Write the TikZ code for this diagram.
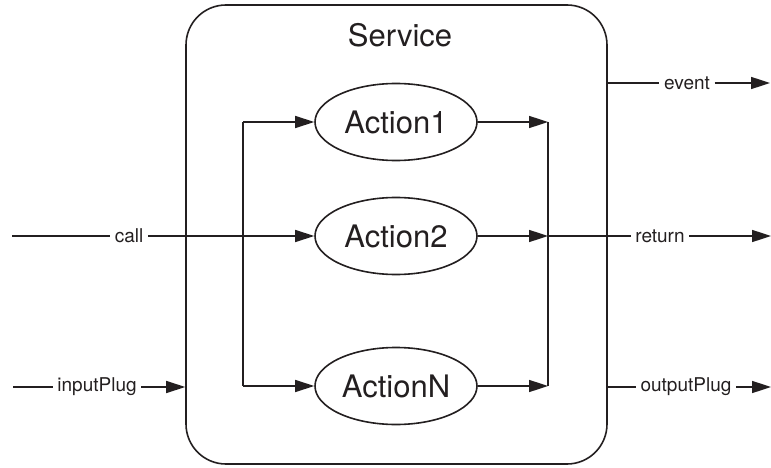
\documentclass[tikz,border=0pt]{standalone}
\usepackage{fontspec}
\setmainfont{TeX Gyre Heros}
\usetikzlibrary{shapes.geometric,arrows.meta}
\definecolor{ink}{HTML}{231F20}

\begin{document}
\begin{tikzpicture}[x=1pt,y=-1pt,
                    line width=1.6pt,draw=ink,text=ink,
                    every node/.style={font=\fontsize{19}{22}\selectfont,inner sep=4pt},
                    action/.style={ellipse,draw,minimum width=162pt,minimum height=77pt,
                                   inner sep=0pt,font=\fontsize{31}{36}\selectfont},
                    flow/.style={-{Triangle[length=19pt,width=12pt]}}
]
\useasboundingbox (0,0) rectangle (771,468);

\node [draw,rounded corners=40pt,minimum width=421pt,minimum height=459pt,inner sep=0pt] at (396.5,234.5) (service) {};
\node [anchor=base,font=\fontsize{31}{36}\selectfont] at (400,47) (title) {Service};

\node [action] at (396,122) (act1) {Action1};
\node [action] at (396,236) (act2) {Action2};
\node [action] at (396,386) (actN) {ActionN};
%
\coordinate (split1) at (243,122);
\coordinate (splitN) at (243,386);
\coordinate (merge1) at (548,122);
\coordinate (merge2) at (548,236);
\coordinate (mergeN) at (548,386);
%
\node at (129,236) (call) {call};
\node at (97,387) (inputPlug) {inputPlug};
\node at (687,83) (event) {event};
\node at (660,236) (return) {return};
\node at (686,387) (outputPlug) {outputPlug};
%
\coordinate (callIn) at (12,236);
\coordinate (plugIn) at (13,387);
\coordinate (eventOut) at (770,83);
\coordinate (returnOut) at (771,236);
\coordinate (plugOut) at (771,387);
%
\draw (callIn) -- (call.west);
\draw [flow] (call.east) -- (act2.west);
\draw (plugIn) -- (inputPlug.west);
\draw [flow] (inputPlug.east) -- (service.west |- inputPlug);
%
\draw (split1) -- (splitN);
\draw [flow] (split1) -- (act1.west);
\draw [flow] (splitN) -- (actN.west);
%
\draw [flow] (act1.east) -- (merge1);
\draw [flow] (act2.east) -- (merge2);
\draw [flow] (actN.east) -- (mergeN);
\draw (merge1) -- (mergeN);
%
\draw (service.east |- event) -- (event.west);
\draw [flow] (event.east) -- (eventOut);
\draw (merge2) -- (return.west);
\draw [flow] (return.east) -- (returnOut);
\draw (service.east |- outputPlug) -- (outputPlug.west);
\draw [flow] (outputPlug.east) -- (plugOut);
\end{tikzpicture}
\end{document}
